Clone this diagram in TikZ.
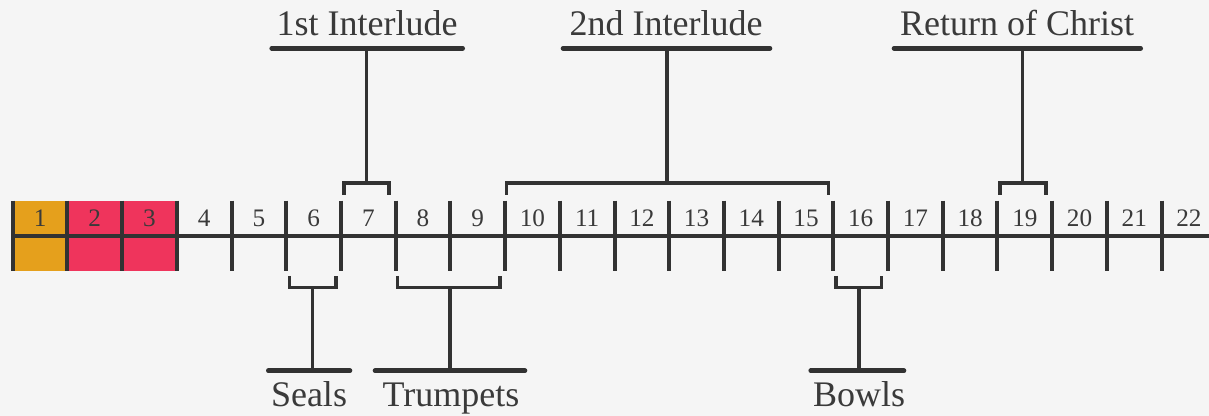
\documentclass[tikz,border=0pt]{standalone}
\usepackage{fontspec}
\setmainfont{Liberation Serif}
\usetikzlibrary{calc}
\definecolor{bgcol}{RGB}{245,245,245}
\definecolor{inkcol}{RGB}{50,50,50}
\definecolor{txtcol}{RGB}{58,58,58}
\definecolor{orangecol}{RGB}{229,160,28}
\definecolor{redcol}{RGB}{239,52,92}
\tikzset{
	tickline/.style={line width=2pt, color=inkcol},
	brkline/.style={line width=1.7pt, color=inkcol},
	lblline/.style={line width=2.3pt, color=inkcol, line cap=round},
	numlbl/.style={text=txtcol, font=\fontsize{12.6}{14}\selectfont, inner sep=0pt},
	grplbl/.style={text=txtcol, font=\fontsize{18}{20}\selectfont, inner sep=0pt, anchor=base}
}

\begin{document}
\begin{tikzpicture}[x=0.5pt, y=-0.5pt]
			%%%%% START %%%%%
			
			\fill[bgcol] (0, 0) rectangle (1209, 416);
			\useasboundingbox (0, 0) rectangle (1209, 416);
			
			\foreach \i in {0,...,21}
				\coordinate (t\i) at ({12.7+54.71*\i}, 235.7);
			\coordinate (tend) at (1209, 235.7);
			
			\fill[orangecol] ($(t0)+(0,-35)$) rectangle ($(t1)+(0,35)$);
			\fill[redcol] ($(t1)+(0,-35)$) rectangle ($(t3)+(0,35)$);
			
			\draw[tickline] (t0) -- (tend);
			\foreach \i in {0,...,21}
				\draw[tickline] ($(t\i)+(0,-35)$) -- ($(t\i)+(0,35)$);
			\foreach \n in {1,...,22}
				\node[numlbl] (n\n) at ({12.7+54.71*(\n-0.5)}, 218.5) {\n};
			
			%% above the line
			\node[grplbl] (int1) at (367, 36) {1st Interlude};
			\node[grplbl] (int2) at (666, 36) {2nd Interlude};
			\node[grplbl] (ret) at (1017, 36) {Return of Christ};
			
			\draw[lblline] (271.7, 48.3) -- (462.7, 48.3);
			\draw[lblline] (563, 48.3) -- (770, 48.3);
			\draw[lblline] (894, 48.3) -- (1140.7, 48.3);
			
			\coordinate (b7) at (366.5, 183);
			\coordinate (b10) at (667, 183);
			\coordinate (b19) at (1022.5, 183);
			
			\draw[brkline] (344, 195) |- (389, 183) -- (389, 195);
			\draw[brkline] (506.5, 195) |- (828.5, 183) -- (828.5, 195);
			\draw[brkline] (1000, 195) |- (1046, 183) -- (1046, 195);
			
			\draw[brkline] (b7) -- (b7 |- 0, 48.3);
			\draw[brkline] (b10) -- (b10 |- 0, 48.3);
			\draw[brkline] (b19) -- (b19 |- 0, 48.3);
			
			%% below the line
			\coordinate (b6) at (312.5, 287.3);
			\coordinate (b8) at (450, 287.3);
			\coordinate (b16) at (859, 287.3);
			
			\draw[brkline] (289.3, 276) |- (336, 287.3) -- (336, 276);
			\draw[brkline] (397.7, 276) |- (500, 287.3) -- (500, 276);
			\draw[brkline] (836, 276) |- (881.7, 287.3) -- (881.7, 276);
			
			\draw[brkline] (b6) -- (b6 |- 0, 370.7);
			\draw[brkline] (b8) -- (b8 |- 0, 370.7);
			\draw[brkline] (b16) -- (b16 |- 0, 370.7);
			
			\draw[lblline] (268.3, 370.7) -- (350, 370.7);
			\draw[lblline] (375, 370.7) -- (525, 370.7);
			\draw[lblline] (810.7, 370.7) -- (904, 370.7);
			
			\node[grplbl] (seals) at (309, 407) {Seals};
			\node[grplbl] (trump) at (451, 407) {Trumpets};
			\node[grplbl] (bowls) at (859, 407) {Bowls};
			
			%%%%% END %%%%%
		\end{tikzpicture}
\end{document}
